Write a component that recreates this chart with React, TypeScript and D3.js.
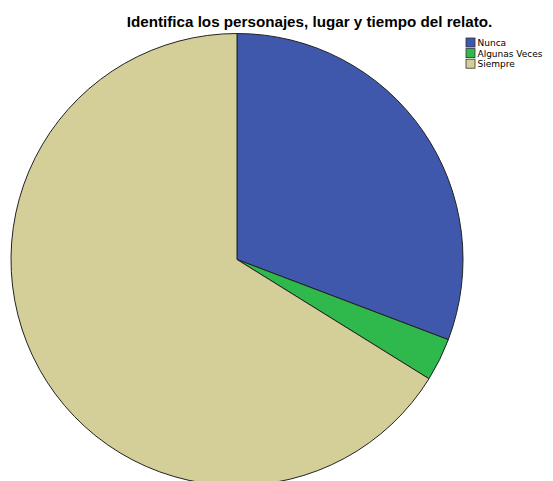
import React from "react";
import * as d3 from "d3";

const categories = ["Nunca", "Algunas Veces", "Siempre"];
const values = [20, 2, 43];
const colors = ["#3f58ab", "#2fb84b", "#d4cf98"];
const title = "Identifica los personajes, lugar y tiempo del relato.";

export default function App() {
  const width = 553;
  const height = 481;
  const cx = 237;
  const cy = 259.5;
  const r = 226;
  const pie = d3.pie<number>().sort(null).value((d) => d)(values);
  const arc = d3.arc<d3.PieArcDatum<number>>().innerRadius(0).outerRadius(r);
  return (
    <svg
      width={width}
      height={height}
      style={{ position: "absolute", left: 0, top: 0, background: "#fff" }}
      fontFamily="'Liberation Sans', Arial, sans-serif"
    >
      <text x={309.5} y={27} textAnchor="middle" fontSize={15.2} fontWeight="bold" fill="#000">
        {title}
      </text>
      <g transform={`translate(${cx},${cy})`}>
        {pie.map((p, i) => (
          <path key={i} d={arc(p) || ""} fill={colors[i]} stroke="#222" strokeWidth={1} />
        ))}
      </g>
      <g>
        {categories.map((c, i) => (
          <g key={c} transform={`translate(466,${38 + i * 10.6})`}>
            <rect x={0} y={0} width={9} height={9} fill={colors[i]} stroke="#333" strokeWidth={0.8} />
            <text x={11.5} y={8.2} fontSize={9} fontFamily="'DejaVu Sans', sans-serif" fill="#000">
              {c}
            </text>
          </g>
        ))}
      </g>
    </svg>
  );
}
